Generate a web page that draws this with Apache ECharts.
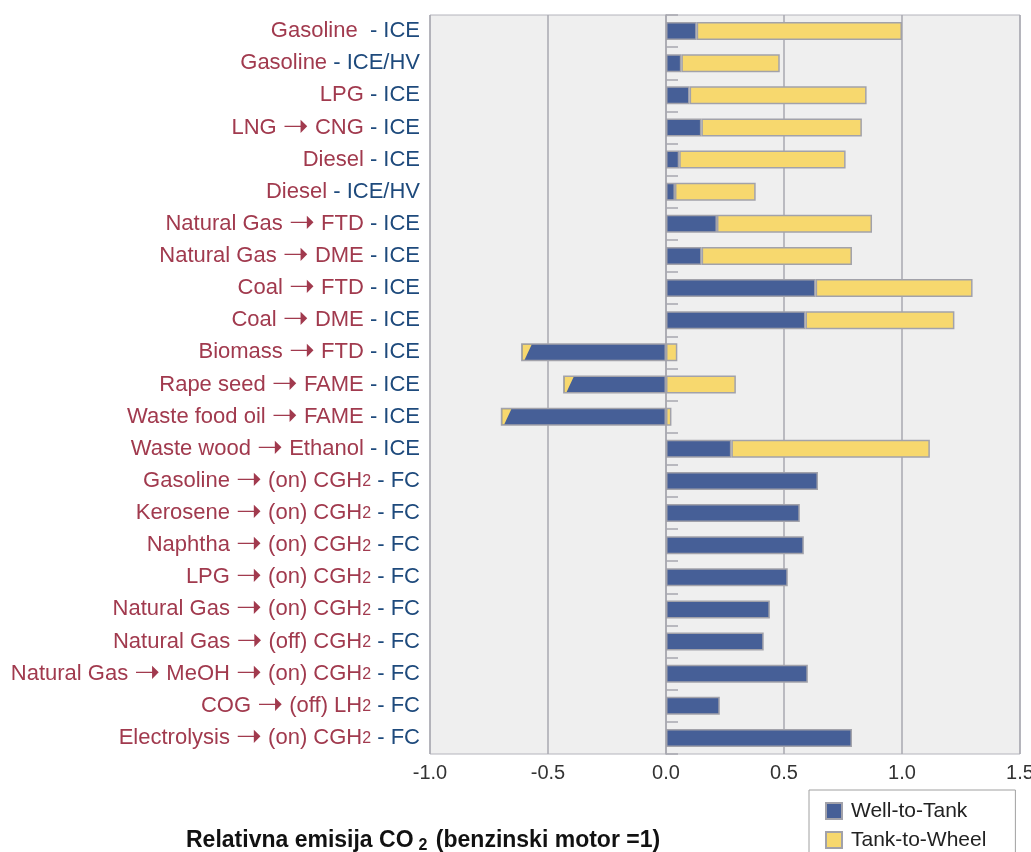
<!DOCTYPE html>
<html><head><meta charset="utf-8">
<script src="https://cdn.jsdelivr.net/npm/echarts@6/dist/echarts.min.js"></script>
<style>html,body{margin:0;padding:0;background:#fff}#c{width:1031px;height:852px}</style>
</head><body><div id="c"></div>
<script>
const pathways = ['Gasoline ', 'Gasoline', 'LPG', 'LNG → CNG', 'Diesel', 'Diesel',
  'Natural Gas → FTD', 'Natural Gas → DME', 'Coal → FTD', 'Coal → DME', 'Biomass → FTD',
  'Rape seed → FAME', 'Waste food oil → FAME', 'Waste wood → Ethanol',
  'Gasoline → (on) CGH2', 'Kerosene → (on) CGH2', 'Naphtha → (on) CGH2', 'LPG → (on) CGH2',
  'Natural Gas → (on) CGH2', 'Natural Gas → (off) CGH2', 'Natural Gas → MeOH → (on) CGH2',
  'COG → (off) LH2', 'Electrolysis → (on) CGH2'];
const powertrains = ['ICE', 'ICE/HV', 'ICE', 'ICE', 'ICE', 'ICE/HV', 'ICE', 'ICE', 'ICE', 'ICE', 'ICE',
  'ICE', 'ICE', 'ICE', 'FC', 'FC', 'FC', 'FC', 'FC', 'FC', 'FC', 'FC', 'FC'];
const wellToTank = [0.13, 0.065, 0.10, 0.15, 0.056, 0.038, 0.216, 0.151, 0.634, 0.591, -0.614,
  -0.436, -0.700, 0.277, 0.644, 0.567, 0.584, 0.516, 0.440, 0.414, 0.601, 0.228, 0.788];
const tankToWheel = [0.87, 0.417, 0.75, 0.68, 0.705, 0.342, 0.657, 0.637, 0.665, 0.631, 0.048,
  0.296, 0.023, 0.841, 0, 0, 0, 0, 0, 0, 0, 0, 0];
const seriesNames = ['Well-to-Tank', 'Tank-to-Wheel'];
const axisTitle = ['Relativna emisija CO', '2', ' (benzinski motor =1)'];

const categories = pathways.map((p, i) => p + ' - ' + powertrains[i]);
const BLUE = '#465f97', YELLOW = '#f7d86e', EDGE = '#a2a2aa', GRIDC = '#a8a8b0';
const FONT = '"Liberation Sans", Arial, sans-serif';
const RED_T = '#a13a4e', BLUE_T = '#1e4a7c';

function labelFmt(v) {
  const k = v.lastIndexOf(' - ');
  let red = v.slice(0, k), blue = v.slice(k);
  let sub = '';
  if (/H2$/.test(red)) { red = red.slice(0, -1); sub = '{s|2}'; }
  const parts = red.split(' → ');
  let out = '';
  parts.forEach((p, j) => {
    if (j > 0) out += '{r| }{a|➝}{r| }';
    out += '{r|' + p + '}';
  });
  return out + sub + '{b|' + blue + '}';
}

const tipData = wellToTank.map((v, i) => v < 0 ? [v, i] : null).filter(Boolean);

const chart = echarts.init(document.getElementById('c'));
chart.setOption({
  backgroundColor: '#ffffff',
  animation: false,
  textStyle: { fontFamily: FONT },
  title: {
    text: '{a|' + axisTitle[0] + '}{s|' + axisTitle[1] + '}{a|' + axisTitle[2] + '}',
    left: 181, top: 823,
    textStyle: {
      rich: {
        a: { fontFamily: FONT, fontSize: 23, fontWeight: 'bold', color: '#111', lineHeight: 26 },
        s: { fontFamily: FONT, fontSize: 16, fontWeight: 'bold', color: '#111', lineHeight: 16, verticalAlign: 'bottom', padding: [0, 2, 0, 5] }
      }
    }
  },
  legend: {
    data: seriesNames,
    orient: 'vertical',
    left: 809, top: 790,
    width: 170, height: 90,
    padding: [9, 29, 14, 16],
    itemWidth: 16, itemHeight: 16, itemGap: 5,
    borderColor: '#a0a0a0', borderWidth: 1, backgroundColor: '#fff',
    icon: 'rect',
    textStyle: { fontFamily: FONT, fontSize: 21, color: '#222', padding: [0, 0, 0, 4], lineHeight: 24 }
  },
  grid: {
    left: 430, right: 11, top: 15, bottom: 98,
    outerBoundsMode: 'none',
    show: true, backgroundColor: '#efefef', borderColor: '#b4b4bc', borderWidth: 1
  },
  xAxis: {
    type: 'value', min: -1, max: 1.5, interval: 0.5,
    axisLine: { show: false },
    axisTick: { show: false },
    axisLabel: { fontFamily: FONT, fontSize: 20, color: '#333', margin: 9,
      formatter: v => v.toFixed(1) },
    splitLine: { show: true, lineStyle: { color: GRIDC, width: 1.5 } }
  },
  yAxis: [{
    type: 'category', data: categories, inverse: true,
    axisLine: { show: false, onZero: false },
    axisTick: { show: false },
    axisLabel: {
      margin: 10, formatter: labelFmt,
      rich: {
        r: { fontFamily: FONT, fontSize: 22, color: RED_T, lineHeight: 24 },
        a: { fontFamily: '"DejaVu Sans", sans-serif', fontSize: 31, color: RED_T, lineHeight: 24 },
        s: { fontFamily: FONT, fontSize: 16, color: RED_T, lineHeight: 16, verticalAlign: 'bottom', padding: [0, 0, 3, 0] },
        b: { fontFamily: FONT, fontSize: 22, color: BLUE_T, lineHeight: 24 }
      }
    }
  }, {
    type: 'category', data: categories, inverse: true, position: 'left',
    axisLine: { show: true, onZero: true, lineStyle: { color: GRIDC, width: 1.5 } },
    axisTick: { show: true, inside: true, length: 12, lineStyle: { color: GRIDC, width: 1.5 } },
    axisLabel: { show: false },
    splitLine: { show: false }
  }],
  series: [{
    name: seriesNames[0], type: 'bar', stack: 'total', barWidth: 18,
    yAxisIndex: 0,
    itemStyle: { color: BLUE, borderColor: EDGE, borderWidth: 1.5 },
    data: wellToTank
  }, {
    name: seriesNames[1], type: 'bar', stack: 'total', barWidth: 18,
    yAxisIndex: 0,
    itemStyle: { color: YELLOW, borderColor: EDGE, borderWidth: 1.5 },
    data: tankToWheel.map(v => v === 0 ? '-' : v)
  }, {
    type: 'custom', silent: true, z: 5, yAxisIndex: 0,
    encode: { x: 0, y: 1 },
    renderItem(params, api) {
      const p = api.coord([api.value(0), api.value(1)]);
      const h = 18;
      const top = p[1] - h / 2 + 1.5, bot = p[1] + h / 2 - 1.5;
      const x0 = p[0] + 1.5;
      return { type: 'polygon', shape: { points: [[x0, top], [x0 + 9, top], [x0 + 2, bot], [x0, bot]] },
        style: { fill: YELLOW } };
    },
    data: tipData
  }]
});
</script></body></html>
